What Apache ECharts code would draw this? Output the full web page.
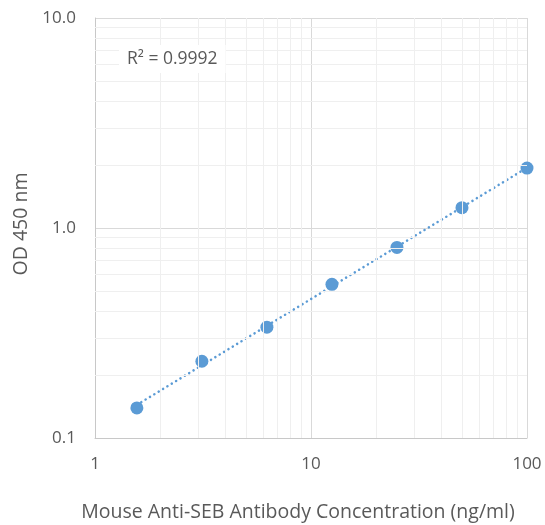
<!DOCTYPE html>
<html>
<head>
<meta charset="utf-8">
<script src="https://cdn.jsdelivr.net/npm/echarts@6/dist/echarts.min.js"></script>
<style>
  html, body { margin: 0; padding: 0; background: #fff; }
  #main { width: 545px; height: 525px; }
</style>
</head>
<body>
<div id="main"></div>
<script>
// concentration (ng/ml) and OD 450 readings
var conc = [1.5625, 3.125, 6.25, 12.5, 25, 50, 100];
var od = [0.139, 0.232, 0.337, 0.539, 0.808, 1.25, 1.93];
// minor grid positions
var minorX = [2, 3, 4, 5, 6, 7, 8, 9, 20, 30, 40, 50, 60, 70, 80, 90];
var minorY = [0.2, 0.3, 0.4, 0.5, 0.6, 0.7, 0.8, 0.9, 2, 3, 4, 5, 6, 7, 8, 9];
var r2Text = 'R² = 0.9992';

var textColor = '#595959';
var font = 'Open Sans';

// power trendline, least squares in log space
var fit = (function () {
    var n = conc.length, sx = 0, sy = 0, sxx = 0, sxy = 0;
    for (var i = 0; i < n; i++) {
        var lx = Math.log(conc[i]), ly = Math.log(od[i]);
        sx += lx; sy += ly; sxx += lx * lx; sxy += lx * ly;
    }
    var b = (n * sxy - sx * sy) / (n * sxx - sx * sx);
    var a = Math.exp((sy - b * sx) / n);
    return { a: a, b: b };
})();
var trend = conc.map(function (x) { return [x, fit.a * Math.pow(x, fit.b)]; });

var points = conc.map(function (x, i) { return [x, od[i]]; });

var minorLines = [];
minorX.forEach(function (v) { minorLines.push({ xAxis: v }); });
minorY.forEach(function (v) { minorLines.push({ yAxis: v }); });

var myChart = echarts.init(document.getElementById('main'));
var option = {
    animation: false,
    grid: { left: 95, right: 18, top: 18, bottom: 87, outerBoundsMode: 'none' },
    xAxis: {
        type: 'log',
        logBase: 10,
        min: 1,
        max: 100,
        name: 'Mouse Anti-SEB Antibody Concentration (ng/ml)',
        nameLocation: 'middle',
        nameGap: 64,
        nameTextStyle: { color: textColor, fontFamily: font, fontSize: 19.5, padding: [0, 26, 0, 0] },
        axisLine: { lineStyle: { color: '#c8c8c8' } },
        axisTick: { show: false },
        axisLabel: { color: textColor, fontFamily: font, fontSize: 17, margin: 18 },
        splitLine: { show: true, lineStyle: { color: '#d9d9d9' } }
    },
    yAxis: {
        type: 'log',
        logBase: 10,
        min: 0.1,
        max: 10,
        name: 'OD 450 nm',
        nameLocation: 'middle',
        nameGap: 63,
        nameTextStyle: { color: textColor, fontFamily: font, fontSize: 19.5, padding: [0, 0, 0, 8] },
        axisLine: { show: true, lineStyle: { color: '#c8c8c8' } },
        axisTick: { show: false },
        axisLabel: {
            color: textColor, fontFamily: font, fontSize: 17, margin: 19,
            formatter: function (v) { return Number(v).toFixed(1); }
        },
        splitLine: { show: true, lineStyle: { color: '#d9d9d9' } }
    },
    graphic: [{
        type: 'text',
        left: 119,
        top: 45,
        z: 10,
        style: {
            text: r2Text,
            fill: textColor,
            font: '17.5px "Open Sans"',
            backgroundColor: '#fff',
            padding: [5, 8, 5, 8]
        }
    }],
    series: [
        {
            type: 'line',
            data: [],
            z: 1,
            silent: true,
            markLine: {
                silent: true,
                symbol: 'none',
                label: { show: false },
                lineStyle: { type: 'solid', color: '#efefef', width: 1 },
                data: minorLines
            }
        },
        {
            type: 'line',
            data: trend,
            z: 2,
            symbol: 'none',
            silent: true,
            lineStyle: { color: '#5b9bd5', width: 2.5, type: [0.1, 5], cap: 'round' }
        },
        {
            type: 'scatter',
            data: points,
            z: 3,
            symbol: 'circle',
            symbolSize: 13,
            itemStyle: { color: '#5b9bd5', opacity: 1 }
        }
    ]
};
myChart.setOption(option);
</script>
</body>
</html>
